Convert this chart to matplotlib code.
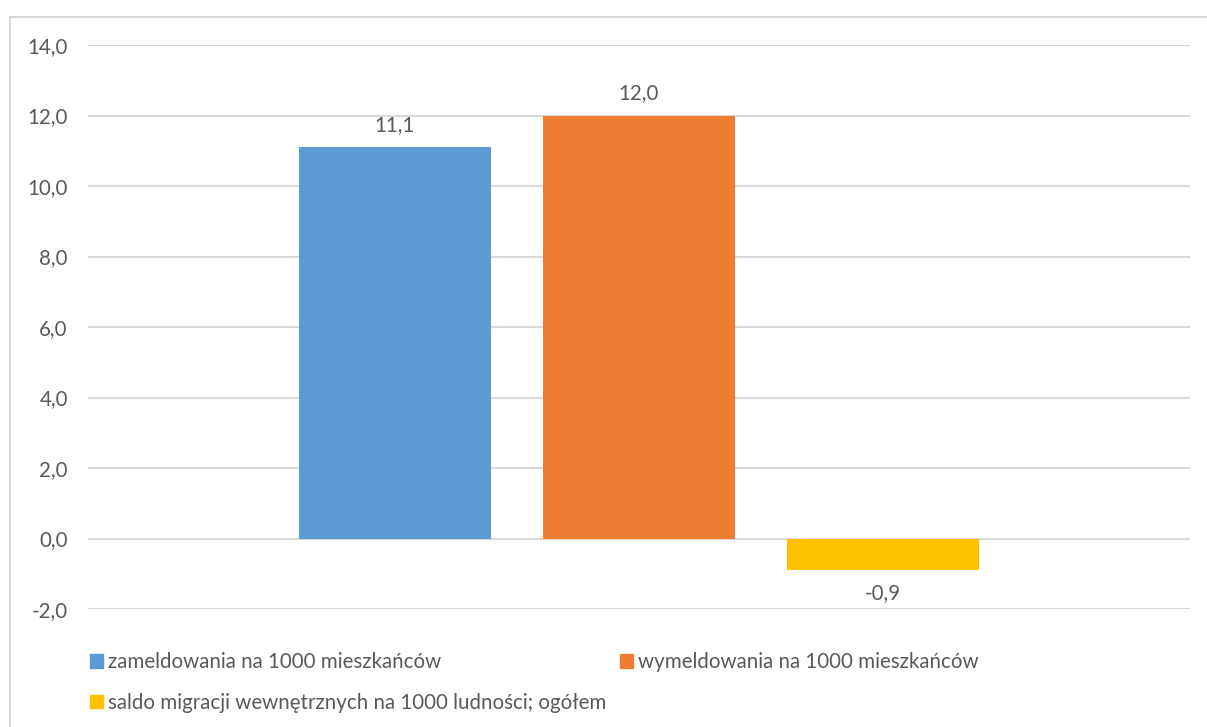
import matplotlib.pyplot as plt
from matplotlib.patches import Rectangle, Patch
from matplotlib.ticker import FuncFormatter

# dane
series = [
    "zameldowania na 1000 mieszkańców",
    "wymeldowania na 1000 mieszkańców",
    "saldo migracji wewnętrznych na 1000 ludności; ogółem",
]
values = [11.1, 12.0, -0.9]
colors = ["#5B9BD5", "#ED7D31", "#FFC000"]
yticks = [-2, 0, 2, 4, 6, 8, 10, 12, 14]

W, H = 1207, 727
plt.rcParams["font.family"] = ["Lato", "DejaVu Sans"]
text_col = "#595959"
grid_col = "#D9D9D9"
fs = 14.8

fig = plt.figure(figsize=(W / 100, H / 100), dpi=100)
ax = fig.add_axes([88 / W, 1 - 609 / H, (1190 - 88) / W, (609 - 45) / H])

pos = list(range(len(values)))
bars = ax.bar(pos, values, width=192 / 244, color=colors, zorder=3)

ax.set_xlim(-1.258, 3.258)
ax.set_ylim(-2, 14)
ax.set_yticks(yticks)
ax.yaxis.set_major_formatter(FuncFormatter(lambda v, p: f"{v:.1f}".replace(".", ",")))
ax.tick_params(axis="y", length=0, pad=14.5, labelsize=fs, labelcolor=text_col)
ax.set_xticks([])
ax.grid(axis="y", color=grid_col, linewidth=1.5, zorder=0)
for s in ax.spines.values():
    s.set_visible(False)

for b, v in zip(bars, values):
    lbl = f"{v:.1f}".replace(".", ",")
    if v >= 0:
        ax.annotate(lbl, (b.get_x() + b.get_width() / 2, v), xytext=(0, 9),
                    textcoords="offset points", ha="center", va="bottom",
                    fontsize=fs, color=text_col)
    else:
        ax.annotate(lbl, (b.get_x() + b.get_width() / 2, v), xytext=(0, -9),
                    textcoords="offset points", ha="center", va="top",
                    fontsize=fs, color=text_col)

# legenda (kolejność wierszami)
handles = [Patch(color=c) for c in colors]
order = [0, 2, 1]
leg = fig.legend([handles[i] for i in order], [series[i] for i in order],
                 ncol=2, loc="upper left", bbox_to_anchor=(82 / W, 1 - 644 / H),
                 frameon=False, fontsize=fs, handlelength=0.6, handleheight=0.6,
                 handletextpad=0.25, columnspacing=0.7, labelspacing=1.0,
                 borderaxespad=0)
for t in leg.get_texts():
    t.set_color(text_col)

# ramka wykresu
fig.patches.append(Rectangle((10 / W, -0.1), 1.2, 1 - 17 / H + 0.1,
                             transform=fig.transFigure, fill=False,
                             edgecolor=grid_col, linewidth=1.5))

fig.savefig("out.png", dpi=100, facecolor="white")
